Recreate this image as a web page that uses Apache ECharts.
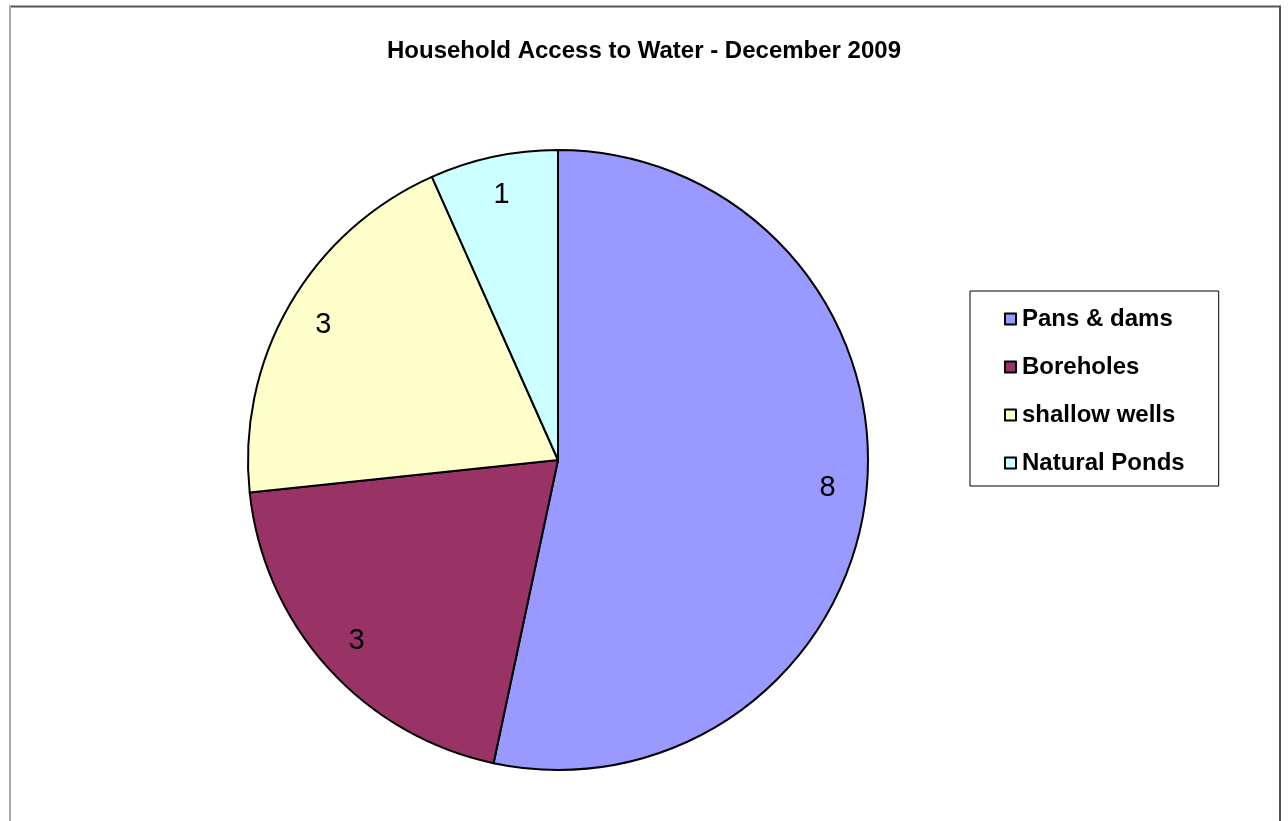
<!DOCTYPE html>
<html>
<head>
<meta charset="utf-8">
<script src="https://cdn.jsdelivr.net/npm/echarts@6/dist/echarts.min.js"></script>
<style>
  html, body { margin: 0; padding: 0; background: #fff; }
  #chart { width: 1288px; height: 821px; }
</style>
</head>
<body>
<div id="chart"></div>
<script>
const titleText = 'Household Access to Water - December 2009';
const categories = ['Pans & dams', 'Boreholes', 'shallow wells', 'Natural Ponds'];
const values = [8, 3, 3, 1];
const colors = ['#9999FF', '#993366', '#FFFFCC', '#CCFFFF'];

const chart = echarts.init(document.getElementById('chart'), null, { renderer: 'canvas' });

const mainData = categories.map((c, i) => ({
  name: c,
  value: values[i],
  itemStyle: { color: colors[i] }
}));
const labelData = categories.map((c, i) => ({ name: c, value: values[i] }));

chart.setOption({
  backgroundColor: '#ffffff',
  animation: false,
  title: {
    text: titleText,
    left: 'center',
    top: 34,
    textStyle: { fontFamily: 'Liberation Sans, Arial, sans-serif', fontWeight: 'bold', fontSize: 24, color: '#000' }
  },
  legend: {
    orient: 'vertical',
    left: 970,
    top: 291,
    padding: [16, 34, 11, 34],
    borderColor: '#000',
    borderWidth: 1,
    itemWidth: 11,
    itemHeight: 11,
    itemGap: 24,
    icon: 'rect',
    data: categories,
    selectedMode: false,
    textStyle: { fontFamily: 'Liberation Sans, Arial, sans-serif', fontWeight: 'bold', fontSize: 24, color: '#000', padding: [0, 0, 0, 1] }
  },
  graphic: [
    { type: 'line', shape: { x1: 9, y1: 6.5, x2: 1281, y2: 6.5 }, style: { stroke: '#555', lineWidth: 2 } },
    { type: 'line', shape: { x1: 10, y1: 6, x2: 10, y2: 830 }, style: { stroke: '#aaa', lineWidth: 2 } },
    { type: 'line', shape: { x1: 1280, y1: 6, x2: 1280, y2: 830 }, style: { stroke: '#555', lineWidth: 2 } }
  ],
  series: [
    {
      type: 'pie',
      name: 'main',
      center: [558, 460],
      radius: [0, 310],
      startAngle: 90,
      clockwise: true,
      silent: true,
      label: { show: false },
      labelLine: { show: false },
      itemStyle: { borderColor: '#000', borderWidth: 2 },
      data: mainData
    },
    {
      type: 'pie',
      name: 'labels',
      center: [558, 460],
      radius: [226, 310],
      startAngle: 90,
      clockwise: true,
      silent: true,
      itemStyle: { color: 'rgba(0,0,0,0)', borderWidth: 0 },
      label: {
        show: true,
        position: 'inside',
        formatter: '{c}',
        fontFamily: 'Liberation Sans, Arial, sans-serif',
        fontSize: 29,
        color: '#000',
        padding: [20, 0, 0, 0]
      },
      labelLine: { show: false },
      data: labelData
    }
  ]
});
</script>
</body>
</html>
